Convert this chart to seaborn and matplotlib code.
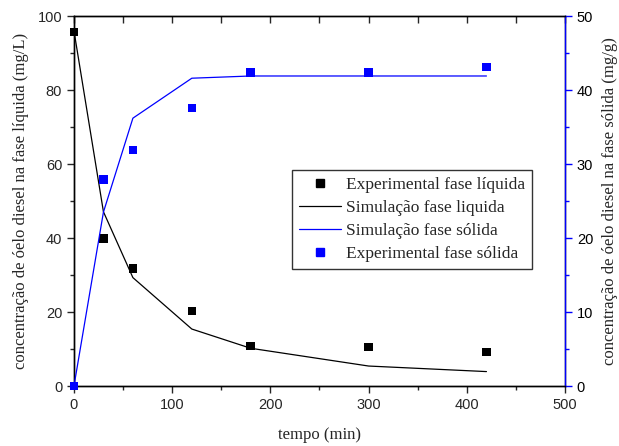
import matplotlib
matplotlib.use("Agg")
import matplotlib.pyplot as plt
from matplotlib.ticker import MultipleLocator
from matplotlib.lines import Line2D
import seaborn as sns
import pandas as pd

# Time points (min)
t_exp = [0, 30, 60, 120, 180, 300, 420]
t_sim = [0, 30, 60, 120, 180, 300, 420]

# Liquid phase (mg/L)
liq_exp = [95.7, 39.8, 31.7, 20.3, 10.8, 10.5, 9.2]
liq_sim = [96.0, 47.1, 29.3, 15.4, 10.2, 5.4, 3.9]

# Solid phase (mg/g)
sol_exp = [0.0, 27.9, 31.9, 37.6, 42.4, 42.4, 43.1]
sol_sim = [0.0, 23.5, 36.2, 41.6, 41.9, 41.9, 41.9]

sns.set_style("ticks")
plt.rcParams["font.family"] = ["Liberation Sans", "DejaVu Sans"]
serif = ["Liberation Serif", "DejaVu Serif"]

df_exp = pd.DataFrame({"t": t_exp, "liq": liq_exp, "sol": sol_exp})
df_sim = pd.DataFrame({"t": t_sim, "liq": liq_sim, "sol": sol_sim})

fig = plt.figure(figsize=(6.19, 4.46), dpi=100)
ax = fig.add_axes([0.1195, 0.1345, 0.7933, 0.8295])
ax2 = ax.twinx()

sns.lineplot(data=df_sim, x="t", y="liq", ax=ax, color="black", lw=0.9,
             clip_on=False, zorder=3)
sns.scatterplot(data=df_exp, x="t", y="liq", ax=ax, color="black", marker="s",
                s=38, edgecolor="none", clip_on=False, zorder=4)
sns.lineplot(data=df_sim, x="t", y="sol", ax=ax2, color="#0000ff", lw=0.9,
             clip_on=False, zorder=3)
sns.scatterplot(data=df_exp, x="t", y="sol", ax=ax2, color="#0000ff", marker="s",
                s=38, edgecolor="none", clip_on=False, zorder=4)

ax.set_xlim(0, 500)
ax.set_ylim(0, 100)
ax2.set_ylim(0, 50)

ax.xaxis.set_major_locator(MultipleLocator(100))
ax.xaxis.set_minor_locator(MultipleLocator(50))
ax.yaxis.set_major_locator(MultipleLocator(20))
ax.yaxis.set_minor_locator(MultipleLocator(10))
ax2.yaxis.set_major_locator(MultipleLocator(10))
ax2.yaxis.set_minor_locator(MultipleLocator(5))

for a in (ax, ax2):
    for s in a.spines.values():
        s.set_linewidth(1.0)
        s.set_color("black")
ax2.spines["right"].set_color("#0000ff")

ax.tick_params(axis="both", which="major", labelsize=10.5, length=5, width=1,
               direction="out")
ax.tick_params(axis="both", which="minor", length=3, width=1, direction="out")
ax.tick_params(axis="x", which="both", top=True)
# top axis ticks point inward
for tl in ax.xaxis.get_major_ticks() + ax.xaxis.get_minor_ticks():
    tl.tick2line.set_marker(matplotlib.lines.TICKDOWN)
    tl.tick2line.set_markersize(5)
ax2.tick_params(axis="y", which="major", labelsize=10.5, length=5, width=1,
                direction="out", colors="#0000ff", labelcolor="black")
ax2.tick_params(axis="y", which="minor", length=3, width=1, direction="out",
                colors="#0000ff")

ax.set_xlabel("tempo (min)", family=serif, fontsize=12, labelpad=11)
ax.set_ylabel("concentração de óelo diesel na fase líquida (mg/L)", family=serif,
              fontsize=12, labelpad=6)
ax2.set_ylabel("concentração de óelo diesel na fase sólida (mg/g)", family=serif,
               fontsize=12, labelpad=6)

handles = [
    Line2D([], [], color="black", marker="s", ls="none", markersize=6),
    Line2D([], [], color="black", lw=0.9),
    Line2D([], [], color="#0000ff", lw=0.9),
    Line2D([], [], color="#0000ff", marker="s", ls="none", markersize=6),
]
labels = ["Experimental fase líquida", "Simulação fase liquida",
          "Simulação fase sólida", "Experimental fase sólida"]
leg = ax2.legend(handles, labels, loc="upper left",
                 bbox_to_anchor=(0.444, 0.584), borderaxespad=0,
                 frameon=True, fancybox=False,
                 edgecolor="black", prop={"family": serif, "size": 12.5},
                 handlelength=2.4, handletextpad=0.3, labelspacing=0.4,
                 borderpad=0.4)
leg.get_frame().set_linewidth(1.0)

fig.savefig("out.png", dpi=100)
